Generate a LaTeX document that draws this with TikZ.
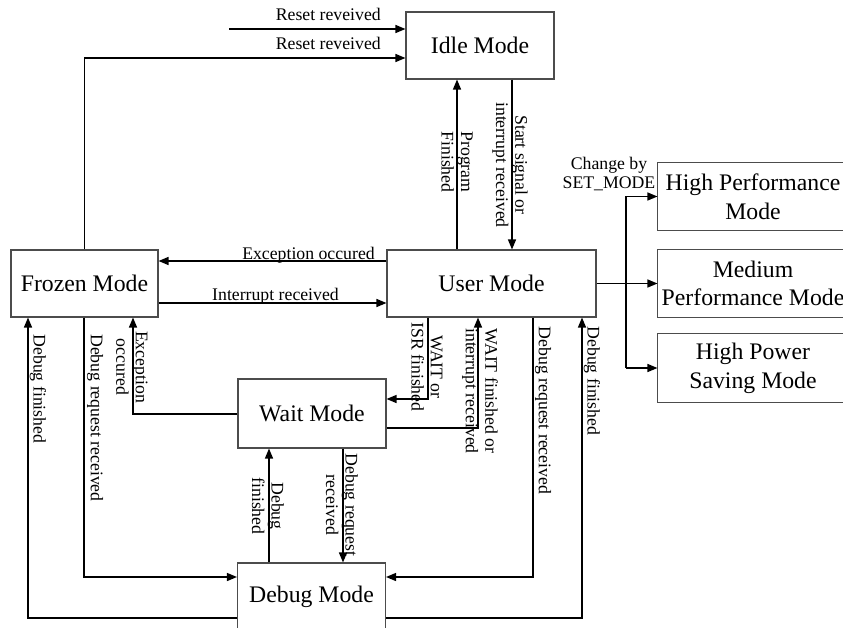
\documentclass[tikz,border=0pt]{standalone}
\usepackage{fontspec}
\setmainfont{Liberation Serif}
\usetikzlibrary{arrows.meta}
\begin{document}
\begin{tikzpicture}[x=0.75pt,y=-0.75pt,
  boxline/.style={draw=black!70,line width=0.8pt},
  state/.style={boxline,fill=white,inner sep=0pt,
    align=center,font=\fontsize{17.8}{21.5}\selectfont},
  openstate/.style={state,draw=none},
  size/.style 2 args={minimum width=#1*0.75pt,minimum height=#2*0.75pt},
  link/.style={draw=black,line width=1pt,-{Triangle[length=7.5pt,width=6pt]}},
  lbl/.style={font=\fontsize{13.3}{14.6}\selectfont,inner sep=0pt,align=center},
  vlbl/.style={lbl,rotate=-90}]
\useasboundingbox (0,0) rectangle (843,628);
\clip (0,0) rectangle (843,628);

% states
\node[state,size={148}{67}] (idle)   at (480,45.5)  {Idle Mode};
\node[state,size={147}{67}] (frozen) at (84.5,283.5) {Frozen Mode};
\node[state,size={209}{67}] (user)   at (491.5,283.5) {User Mode};
\node[state,size={148}{69}] (wait)   at (312,413.5) {Wait Mode};
\node[state,size={148}{68}] (debug)  at (311.5,597) {Debug Mode};

% performance modes run on past the right edge
\node[openstate,size={190}{67}] (hperf) at (753,196.5) {High Performance\\Mode};
\node[openstate,size={190}{67}] (mperf) at (753,283.5) {Medium\\Performance Mode};
\node[openstate,size={190}{68}] (hpow)  at (753,368)   {High Power\\Saving Mode};
\foreach \b in {hperf,mperf,hpow}
  \draw[boxline] ([xshift=30pt]\b.north east) -- (\b.north west)
    -- (\b.south west) -- ([xshift=30pt]\b.south east);

% reset transitions into idle
\coordinate (r1) at (229,29);
\coordinate (r2) at (84,58);
\draw[link] (r1) -- (idle.west |- r1);
\draw[link] (frozen.north) -- (frozen.north |- r2) -- (idle.west |- r2);
\node[lbl,anchor=base east] at (381,21) {Reset reveived};
\node[lbl,anchor=base east] at (381,50) {Reset reveived};

% idle <-> user
\coordinate (pf) at (457,0);
\coordinate (ss) at (512,0);
\draw[link] (user.north -| pf) -- (idle.south -| pf);
\draw[link] (idle.south -| ss) -- (user.north -| ss);
\node[vlbl] at (457,162) {Program\\Finished};
\node[vlbl] at (510,165) {Start signal or\\interrupt received};

% frozen <-> user
\coordinate (ex) at (0,261);
\coordinate (ir) at (0,303);
\draw[link] (user.west |- ex) -- (frozen.east |- ex);
\draw[link] (frozen.east |- ir) -- (user.west |- ir);
\node[lbl,anchor=base east] at (375,259) {Exception occured};
\node[lbl,anchor=base] at (275.5,300) {Interrupt received};

% performance mode changes
\coordinate (bx) at (626,0);
\draw[link] (user.east) -- (mperf.west);
\draw[link] (bx |- hpow.west) -- (bx |- hperf.west) -- (hperf.west);
\draw[link] (bx |- hpow.west) -- (hpow.west);
\node[lbl] at (609,174) {Change by\\SET\_MODE};

% user <-> wait
\coordinate (wo) at (428,399);
\coordinate (wf) at (478,428);
\draw[link] (user.south -| wo) -- (wo) -- (wait.east |- wo);
\draw[link] (wait.east |- wf) -- (wf) -- (user.south -| wf);
\node[vlbl] at (427,367) {WAIT or\\ISR finished};
\node[vlbl] at (480,391) {WAIT finished or\\interrupt received};

% user <-> debug
\coordinate (dr) at (533,577);
\coordinate (df) at (582,618);
\draw[link] (user.south -| dr) -- (dr) -- (debug.east |- dr);
\draw[link] (debug.east |- df) -- (df) -- (user.south -| df);
\node[vlbl] at (543,410.5) {Debug request received};
\node[vlbl] at (592,381) {Debug finished};

% wait -> frozen
\coordinate (eo) at (133,414);
\draw[link] (wait.west |- eo) -- (eo) -- (frozen.south -| eo);
\node[vlbl] at (132,367) {Exception\\occured};

% frozen <-> debug
\coordinate (lf) at (28,618);
\coordinate (lr) at (84,577);
\draw[link] (debug.west |- lf) -- (lf) -- (frozen.south -| lf);
\draw[link] (frozen.south -| lr) -- (lr) -- (debug.west |- lr);
\node[vlbl] at (38,389) {Debug finished};
\node[vlbl] at (95,418) {Debug request received};

% wait <-> debug
\coordinate (dw) at (269,0);
\coordinate (wd) at (343,0);
\draw[link] (debug.north -| dw) -- (wait.south -| dw);
\draw[link] (wait.south -| wd) -- (debug.north -| wd);
\node[vlbl] at (268,506) {Debug\\finished};
\node[vlbl] at (342,505) {Debug request\\received};
\end{tikzpicture}
\end{document}
